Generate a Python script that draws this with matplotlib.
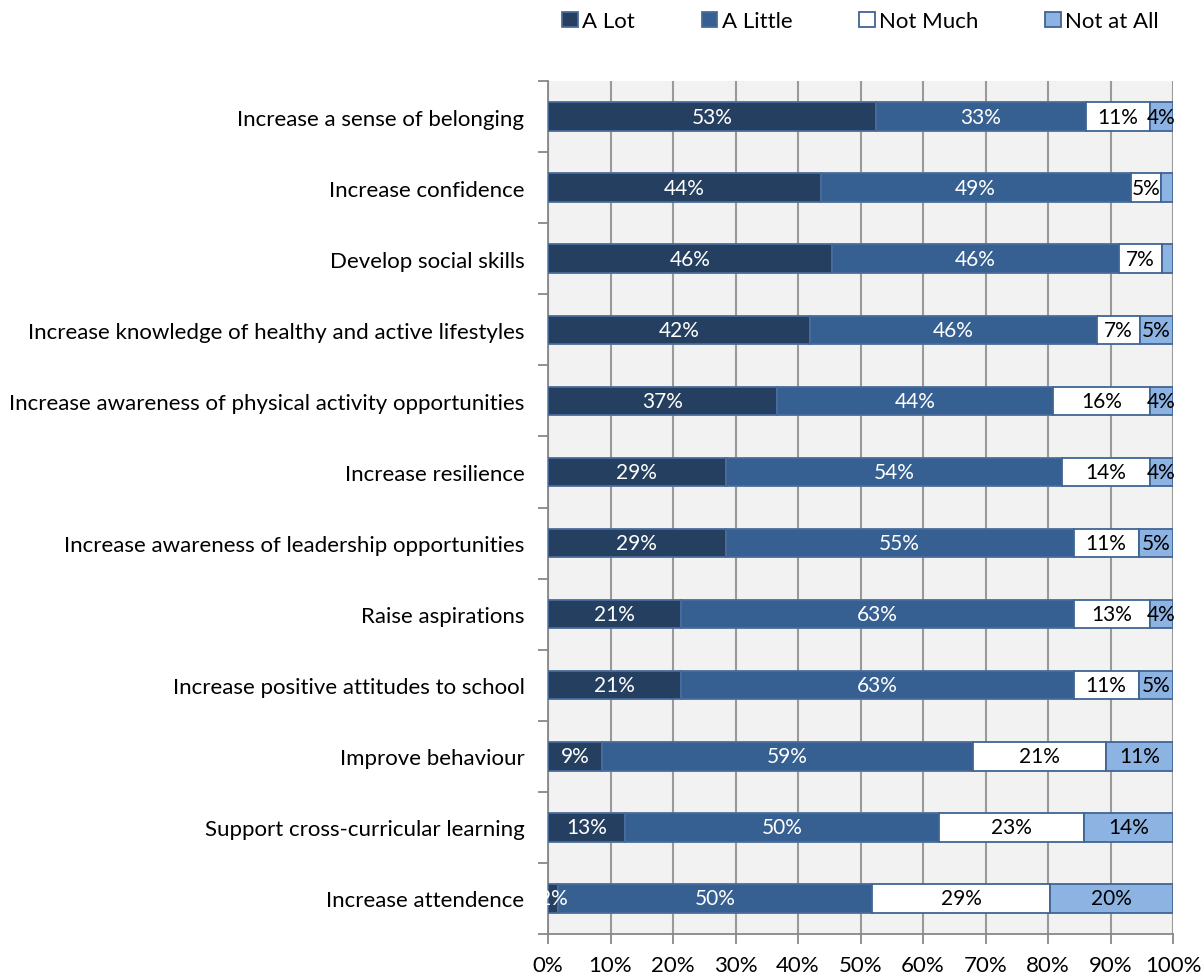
import numpy as np
import matplotlib.pyplot as plt

plt.rcParams['font.family'] = ['Lato', 'DejaVu Sans']

categories = [
    "Increase a sense of belonging",
    "Increase confidence",
    "Develop social skills",
    "Increase knowledge of healthy and active lifestyles",
    "Increase awareness of physical activity opportunities",
    "Increase resilience",
    "Increase awareness of leadership opportunities",
    "Raise aspirations",
    "Increase positive attitudes to school",
    "Improve behaviour",
    "Support cross-curricular learning",
    "Increase attendence",
]
series = ["A Lot", "A Little", "Not Much", "Not at All"]

# bar shares (%)
a_lot = [52.4, 43.6, 45.4, 41.9, 36.7, 28.4, 28.4, 21.3, 21.3, 8.7, 12.3, 1.6]
a_little = [33.7, 49.6, 45.9, 46.0, 44.1, 53.9, 55.7, 62.8, 62.8, 59.3, 50.3, 50.3]
not_much = [10.2, 4.9, 6.9, 6.8, 15.5, 14.0, 10.4, 12.2, 10.4, 21.2, 23.1, 28.4]
not_at_all = [3.7, 1.9, 1.8, 5.3, 3.7, 3.7, 5.5, 3.7, 5.5, 10.8, 14.3, 19.7]

# data labels as printed on the chart
a_lot_lbl = ["53%", "44%", "46%", "42%", "37%", "29%", "29%", "21%", "21%", "9%", "13%", "2%"]
a_little_lbl = ["33%", "49%", "46%", "46%", "44%", "54%", "55%", "63%", "63%", "59%", "50%", "50%"]
not_much_lbl = ["11%", "5%", "7%", "7%", "16%", "14%", "11%", "13%", "11%", "21%", "23%", "29%"]
not_at_all_lbl = ["4%", "", "", "5%", "4%", "4%", "5%", "4%", "5%", "11%", "14%", "20%"]

colors = ["#253F60", "#376092", "#FFFFFF", "#8DB3E2"]
edges = ["#4A6C9B", "#4A6C9B", "#3F6594", "#3F6594"]
text_colors = ["white", "white", "black", "black"]

data = np.array([a_lot, a_little, not_much, not_at_all])
share = data / data.sum(axis=0) * 100
labels = [a_lot_lbl, a_little_lbl, not_much_lbl, not_at_all_lbl]

fig = plt.figure(figsize=(12.03, 9.78), dpi=100)
ax = fig.add_axes([548/1203, 43/978, 625/1203, 853/978])
ax.set_facecolor("#F2F2F2")

y = np.arange(len(categories))
left = np.zeros(len(categories))
for i, name in enumerate(series):
    ax.barh(y, share[i], left=left, height=0.4, color=colors[i],
            edgecolor=edges[i], linewidth=1.3, label=name, zorder=3)
    for j in range(len(categories)):
        if labels[i][j]:
            ax.text(left[j] + share[i][j] / 2, y[j], labels[i][j],
                    ha="center", va="center", fontsize=15, color=text_colors[i], zorder=4)
    left += share[i]

ax.set_xlim(0, 100)
ax.set_ylim(len(categories) - 0.5, -0.5)
ax.set_xticks(np.arange(0, 101, 10))
ax.set_xticklabels([f"{v}%" for v in range(0, 101, 10)], fontsize=16)
ax.set_yticks(y)
ax.set_yticklabels(categories, fontsize=16)
ax.tick_params(axis="y", length=0, pad=17)
ax.set_yticks(np.arange(-0.5, len(categories)), minor=True)
ax.tick_params(axis="y", which="minor", length=7, color="#888888", width=1.3)
ax.tick_params(axis="x", length=7, color="#888888", width=1.3, pad=8)
ax.grid(axis="x", color="#999999", linewidth=1.5, zorder=0)
for side in ["top", "right"]:
    ax.spines[side].set_visible(False)
for side in ["left", "bottom"]:
    ax.spines[side].set_color("#888888")
    ax.spines[side].set_linewidth(1.3)

ax.legend(loc="upper center", bbox_to_anchor=(0.5, 1.105), ncol=4, frameon=False,
          fontsize=16, handlelength=0.7, handleheight=0.7, handletextpad=0.2,
          columnspacing=3.0)

fig.savefig("out.png", dpi=100)
